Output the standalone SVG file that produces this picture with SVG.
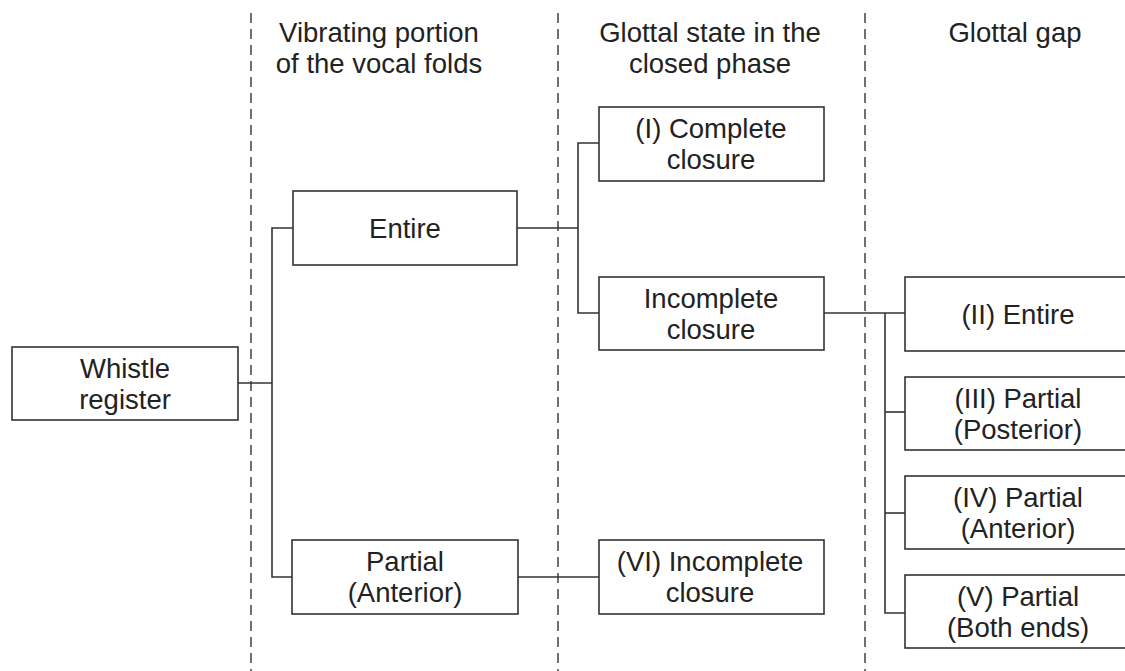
<svg xmlns="http://www.w3.org/2000/svg" width="1125" height="671" viewBox="0 0 1125 671">
<style>
.box{fill:#fff;stroke:#333;stroke-width:1.6}
.t{font-family:"Liberation Sans",Arial,sans-serif;font-size:27.5px;fill:#222;text-anchor:middle}
.c{fill:none;stroke:#333;stroke-width:1.6}
.d{stroke:#333;stroke-width:1.4;stroke-dasharray:10 6}
</style>
<rect width="1125" height="671" fill="#fff"/>
<g id="dividers">
<line class="d" x1="251" y1="13" x2="251" y2="671"/>
<line class="d" x1="558" y1="13" x2="558" y2="671"/>
<line class="d" x1="865" y1="13" x2="865" y2="671"/>
</g>
<g id="headers">
<text class="t" x="379" y="42">Vibrating portion</text>
<text class="t" x="379" y="73">of the vocal folds</text>
<text class="t" x="710" y="42">Glottal state in the</text>
<text class="t" x="710" y="73">closed phase</text>
<text class="t" x="1015" y="42">Glottal gap</text>
</g>
<g id="connectors">
<polyline class="c" points="238,383 272,383"/>
<polyline class="c" points="293,228 272,228 272,577 292,577"/>
<polyline class="c" points="517,228 578,228"/>
<polyline class="c" points="599,143 578,143 578,313 599,313"/>
<polyline class="c" points="518,577 599,577"/>
<polyline class="c" points="824,313 905,313"/>
<polyline class="c" points="885,313 885,613 905,613"/>
<polyline class="c" points="885,412 905,412"/>
<polyline class="c" points="885,513 905,513"/>
</g>
<g id="whistle">
<rect class="box" x="12" y="347" width="226" height="73"/>
<text class="t" x="125" y="378">Whistle</text>
<text class="t" x="125" y="409">register</text>
</g>
<g id="entire">
<rect class="box" x="293" y="191" width="224" height="74"/>
<text class="t" x="405" y="238">Entire</text>
</g>
<g id="partial">
<rect class="box" x="292" y="540" width="226" height="74"/>
<text class="t" x="405" y="571">Partial</text>
<text class="t" x="405" y="602">(Anterior)</text>
</g>
<g id="complete">
<rect class="box" x="599" y="107" width="225" height="74"/>
<text class="t" x="711" y="138">(I) Complete</text>
<text class="t" x="711" y="169">closure</text>
</g>
<g id="incomplete">
<rect class="box" x="599" y="277" width="225" height="73"/>
<text class="t" x="711" y="308">Incomplete</text>
<text class="t" x="711" y="339">closure</text>
</g>
<g id="vi">
<rect class="box" x="599" y="540" width="225" height="74"/>
<text class="t" x="710" y="571">(VI) Incomplete</text>
<text class="t" x="710" y="602">closure</text>
</g>
<g id="ii">
<rect class="box" x="905" y="277" width="226" height="74"/>
<text class="t" x="1018" y="324">(II) Entire</text>
</g>
<g id="iii">
<rect class="box" x="905" y="377" width="226" height="73"/>
<text class="t" x="1018" y="408">(III) Partial</text>
<text class="t" x="1018" y="439">(Posterior)</text>
</g>
<g id="iv">
<rect class="box" x="905" y="476" width="226" height="73"/>
<text class="t" x="1018" y="507">(IV) Partial</text>
<text class="t" x="1018" y="538">(Anterior)</text>
</g>
<g id="v">
<rect class="box" x="905" y="575" width="226" height="73"/>
<text class="t" x="1018" y="606">(V) Partial</text>
<text class="t" x="1018" y="637">(Both ends)</text>
</g>
</svg>
